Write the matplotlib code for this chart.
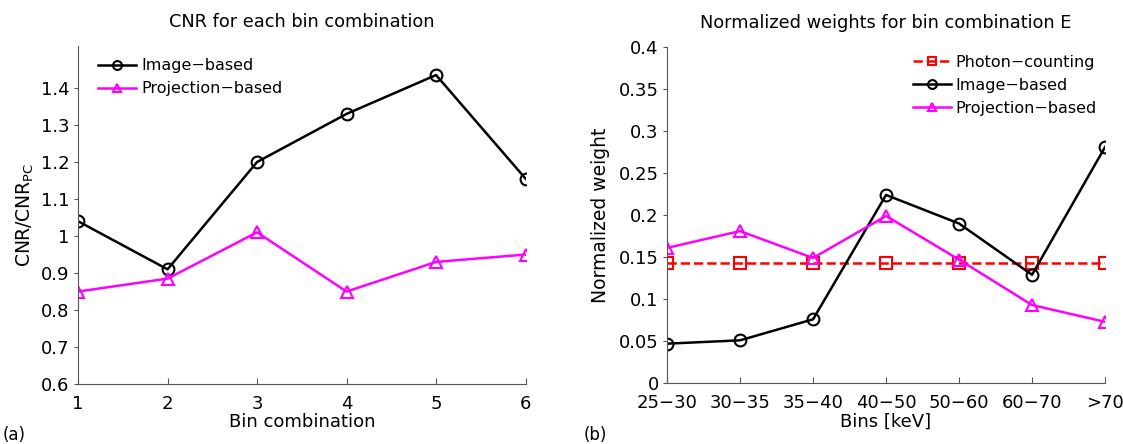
import numpy as np
import matplotlib
matplotlib.use("Agg")
import matplotlib.pyplot as plt

# CNR ratio for each bin combination
combos = [1, 2, 3, 4, 5, 6]
cnr_image = [1.04, 0.91, 1.20, 1.33, 1.435, 1.155]
cnr_proj = [0.85, 0.885, 1.01, 0.85, 0.93, 0.95]

# normalized weights, bin combination E
bins = ["25\u221230", "30\u221235", "35\u221240", "40\u221250", "50\u221260", "60\u221270", ">70"]
w_pc = [1 / 7] * 7
w_image = [0.047, 0.051, 0.076, 0.224, 0.190, 0.129, 0.281]
w_proj = [0.161, 0.181, 0.149, 0.199, 0.147, 0.093, 0.073]

plt.rcParams["font.family"] = "DejaVu Sans"
plt.rcParams["font.size"] = 13

fig = plt.figure(figsize=(11.23, 4.44), dpi=100)
ax1 = fig.add_axes([0.0695, 0.135, 0.3985, 0.761])
ax2 = fig.add_axes([0.594, 0.137, 0.390, 0.757])

mk = dict(markersize=8.5, markerfacecolor="none", markeredgewidth=1.5, linewidth=1.8)
leg = dict(frameon=False, handlelength=2.4, handletextpad=0.3, labelspacing=0.5,
           markerscale=0.75, fontsize=11.5)

ax1.plot(combos, cnr_image, "-o", color="black", label="Image\u2212based", **mk)
ax1.plot(combos, cnr_proj, "-^", color="magenta", label="Projection\u2212based", **mk)
ax1.set_xlim(1, 6)
ax1.set_ylim(0.6, 1.513)
ax1.set_yticks(np.arange(0.6, 1.41, 0.1))
ax1.set_yticklabels(["0.6", "0.7", "0.8", "0.9", "1", "1.1", "1.2", "1.3", "1.4"])
ax1.set_xticks(combos)
ax1.set_title("CNR for each bin combination", fontsize=12.8, pad=14)
ax1.set_xlabel("Bin combination", labelpad=0)
ax1.set_ylabel("CNR/CNR$_{\\mathrm{PC}}$", fontsize=13.5, labelpad=4)
ax1.legend(loc="upper left", borderaxespad=0.35, bbox_to_anchor=(0.018, 1.0), **leg)

x = np.arange(len(bins))
ax2.plot(x, w_pc, "--s", color="red", label="Photon\u2212counting", markersize=8,
         markerfacecolor="none", markeredgewidth=1.5, linewidth=1.8)
ax2.plot(x, w_image, "-o", color="black", label="Image\u2212based", **mk)
ax2.plot(x, w_proj, "-^", color="magenta", label="Projection\u2212based", **mk)
ax2.set_xlim(0, 6)
ax2.set_ylim(0, 0.4)
ax2.set_yticks(np.arange(0, 0.41, 0.05))
ax2.set_yticklabels(["0", "0.05", "0.1", "0.15", "0.2", "0.25", "0.3", "0.35", "0.4"])
ax2.set_xticks(x)
ax2.set_xticklabels(bins)
ax2.set_title("Normalized weights for bin combination E", fontsize=12.8, pad=14)
ax2.set_xlabel("Bins [keV]", labelpad=0)
ax2.set_ylabel("Normalized weight", fontsize=13.5, labelpad=6)
ax2.legend(loc="upper right", borderaxespad=0.1, bbox_to_anchor=(1.0, 1.0), **leg)

for ax in (ax1, ax2):
    ax.spines["top"].set_visible(False)
    ax.spines["right"].set_visible(False)
    for sp in ("left", "bottom"):
        ax.spines[sp].set_linewidth(0.8)
        ax.spines[sp].set_color("#555555")
    ax.tick_params(axis="y", direction="out", length=3, pad=3, labelsize=13, color="#555555")
    ax.tick_params(axis="x", direction="in", length=4, pad=8, labelsize=13, color="#555555")

fig.text(0.002, 0.01, "(a)", fontsize=12)
fig.text(0.52, 0.01, "(b)", fontsize=12)

fig.savefig("out.png", dpi=100)
